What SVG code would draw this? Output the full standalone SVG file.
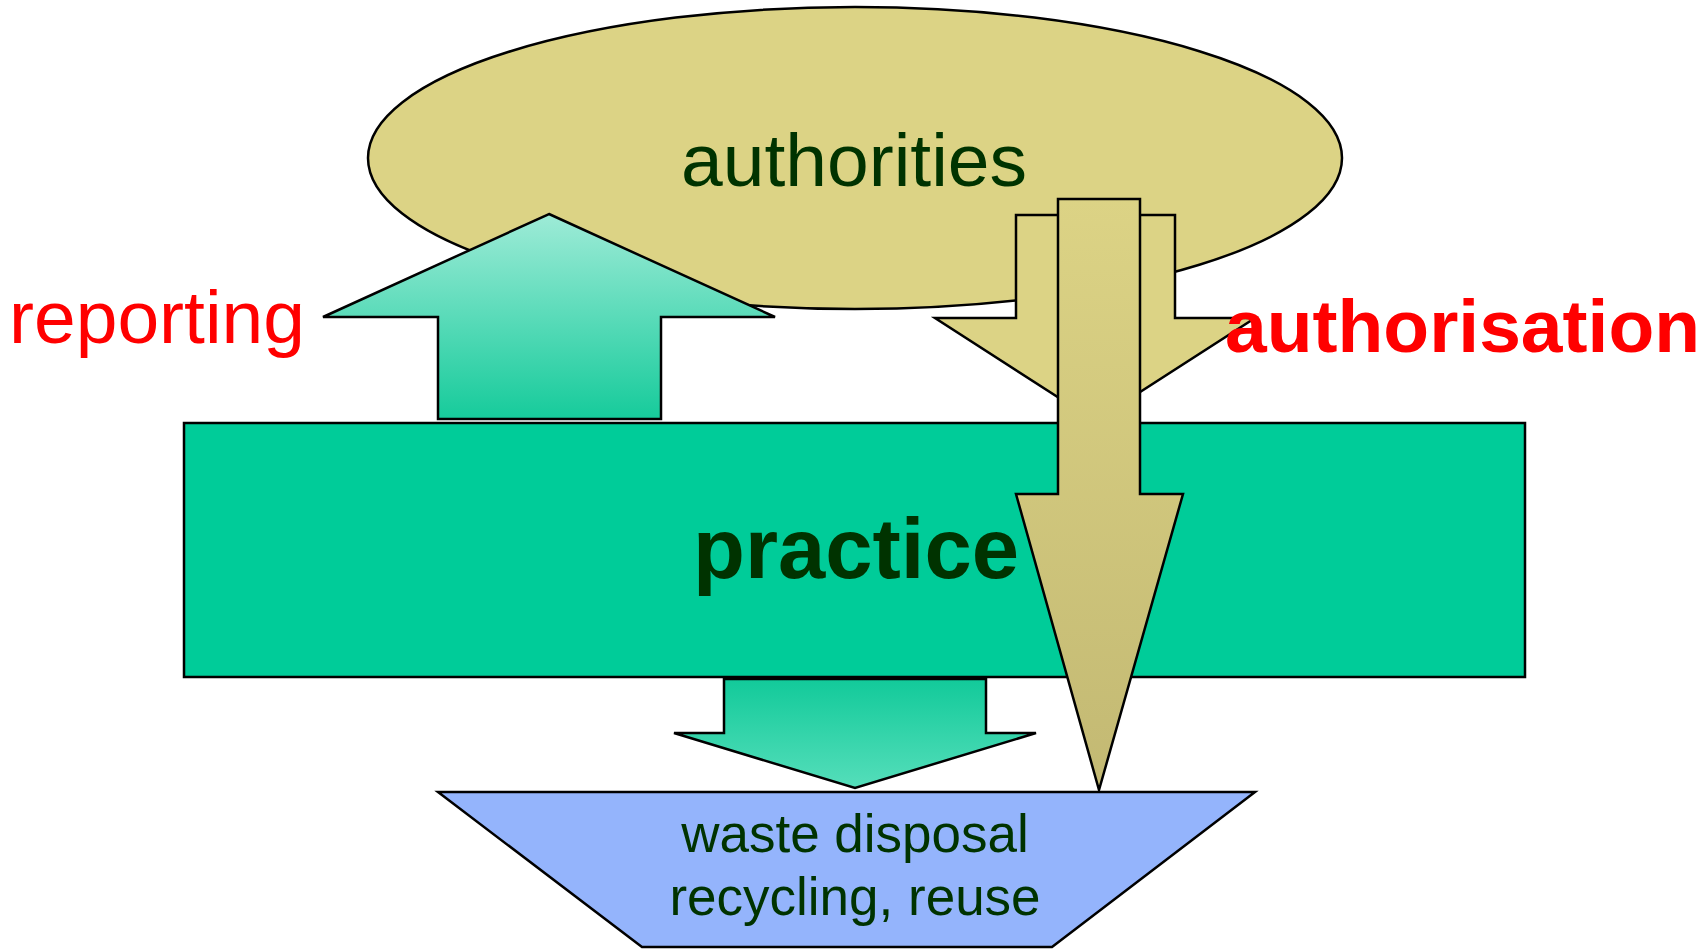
<svg xmlns="http://www.w3.org/2000/svg" width="1705" height="949" viewBox="0 0 1705 949">
  <style>
    .outline { stroke: #000; stroke-width: 2.5; stroke-linejoin: miter; }
    .label { font-family: "Liberation Sans", Arial, sans-serif; fill: #003300; text-anchor: middle; }
    .flow { font-family: "Liberation Sans", Arial, sans-serif; fill: #FF0000; }
  </style>
  <defs>
    <linearGradient id="gradUp" gradientUnits="userSpaceOnUse" x1="0" y1="214" x2="0" y2="419">
      <stop offset="0" stop-color="#9EEBD7"/>
      <stop offset="1" stop-color="#16CB9B"/>
    </linearGradient>
    <linearGradient id="gradDown" gradientUnits="userSpaceOnUse" x1="0" y1="679" x2="0" y2="788">
      <stop offset="0" stop-color="#12CA9A"/>
      <stop offset="1" stop-color="#55DEBA"/>
    </linearGradient>
    <linearGradient id="gradKhaki" gradientUnits="userSpaceOnUse" x1="0" y1="199" x2="0" y2="790">
      <stop offset="0" stop-color="#DCD385"/>
      <stop offset="1" stop-color="#C3B973"/>
    </linearGradient>
  </defs>

  <!-- authorities -->
  <g id="authorities">
    <ellipse class="outline" cx="855" cy="158" rx="487" ry="151" fill="#DCD385" stroke-width="2"/>
    <text class="label" x="854" y="186" font-size="75">authorities</text>
  </g>

  <!-- connectors -->
  <g id="connectors">
    <!-- reporting: practice up to authorities -->
    <polygon class="outline" fill="url(#gradUp)" points="549,214 775,317 661,317 661,419 438,419 438,317 323,317"/>
    <!-- wide authorisation arrow behind the long one -->
    <polygon class="outline" fill="#DCD385" points="1016,215 1175,215 1175,318 1255,318 1095,421 935,318 1016,318"/>
  </g>

  <!-- practice -->
  <g id="practice">
    <rect class="outline" x="184" y="423" width="1341" height="254" fill="#00CC99"/>
    <text class="label" x="856" y="578" font-size="85" font-weight="bold">practice</text>
  </g>

  <g id="connectors-front">
    <!-- long authorisation arrow down to waste disposal -->
    <polygon class="outline" fill="url(#gradKhaki)" points="1058,199 1140,199 1140,494 1183,494 1099,790 1016,494 1058,494"/>
    <!-- practice down to waste disposal -->
    <polygon class="outline" fill="url(#gradDown)" points="724,679 986,679 986,733 1036,733 855,788 674,733 724,733"/>
  </g>

  <!-- waste disposal / recycling, reuse -->
  <g id="waste">
    <polygon class="outline" fill="#94B4FC" points="438,792 1255,792 1052,947 642,947"/>
    <text class="label" x="855" y="852" font-size="53">waste disposal</text>
    <text class="label" x="855" y="915" font-size="53">recycling, reuse</text>
  </g>

  <!-- flow labels -->
  <g id="labels">
    <text class="flow" x="9" y="343" font-size="75">reporting</text>
    <text class="flow" x="1225" y="352" font-size="75" font-weight="bold">authorisation</text>
  </g>
</svg>
